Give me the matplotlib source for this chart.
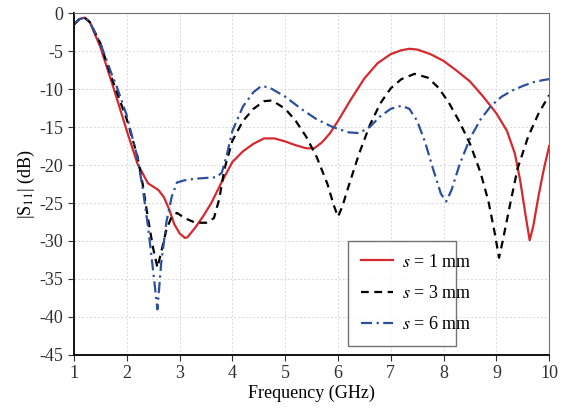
import numpy as np
import matplotlib.pyplot as plt

plt.rcParams['font.family'] = ['Liberation Serif', 'DejaVu Serif']
plt.rcParams['mathtext.fontset'] = 'stix'
plt.rcParams['axes.unicode_minus'] = False

# s = 1 mm
f1 = [1.0, 1.1, 1.2, 1.3, 1.5, 1.7, 1.8, 2.0, 2.2, 2.4, 2.6, 2.7, 2.8, 2.9, 3.0, 3.1, 3.15,
      3.3, 3.45, 3.6, 3.8, 4.0, 4.2, 4.4, 4.6, 4.8, 5.0, 5.2, 5.4, 5.55, 5.7, 5.85, 6.0,
      6.25, 6.5, 6.75, 7.0, 7.2, 7.35, 7.5, 7.75, 8.0, 8.25, 8.5, 8.75, 9.0, 9.2, 9.35,
      9.45, 9.55, 9.63, 9.7, 9.8, 9.9, 10.0]
s1 = [-1.5, -0.8, -0.6, -1.2, -4.5, -8.8, -11.0, -15.5, -19.8, -22.4, -23.3, -24.2, -25.8,
      -27.8, -29.0, -29.6, -29.5, -28.2, -26.7, -25.0, -22.2, -19.6, -18.2, -17.2, -16.5,
      -16.5, -16.9, -17.4, -17.8, -17.8, -17.0, -15.8, -14.2, -11.3, -8.6, -6.6, -5.4,
      -4.9, -4.7, -4.8, -5.4, -6.3, -7.6, -9.0, -11.0, -13.2, -15.5, -18.5, -22.0, -26.5,
      -29.9, -28.0, -24.0, -20.5, -17.5]

# s = 3 mm
f3 = [1.0, 1.1, 1.2, 1.3, 1.5, 1.7, 1.8, 2.0, 2.2, 2.3, 2.4, 2.5, 2.58, 2.65, 2.75, 2.85,
      2.95, 3.1, 3.3, 3.5, 3.65, 3.75, 3.85, 4.0, 4.2, 4.4, 4.6, 4.75, 5.0, 5.2, 5.4, 5.6,
      5.8, 5.92, 6.0, 6.08, 6.2, 6.4, 6.6, 6.8, 7.0, 7.2, 7.45, 7.7, 7.9, 8.1, 8.3, 8.5,
      8.7, 8.85, 8.97, 9.05, 9.12, 9.25, 9.4, 9.6, 9.8, 10.0]
s3 = [-1.5, -0.8, -0.6, -1.2, -4.0, -8.3, -10.2, -14.0, -18.8, -22.5, -27.0, -31.0, -33.5,
      -31.5, -28.5, -26.8, -26.3, -27.0, -27.6, -27.6, -27.0, -24.5, -20.5, -16.8, -14.2,
      -12.6, -11.6, -11.5, -12.6, -14.2, -16.3, -19.0, -22.5, -25.3, -26.8, -25.5, -22.8,
      -18.5, -14.8, -11.9, -9.9, -8.7, -8.0, -8.5, -9.8, -11.8, -14.3, -17.2, -21.0, -24.8,
      -29.0, -32.2, -30.0, -25.5, -20.5, -16.3, -13.2, -10.8]

# s = 6 mm
f6 = [1.0, 1.1, 1.2, 1.3, 1.5, 1.7, 1.8, 2.0, 2.2, 2.3, 2.4, 2.5, 2.58, 2.65, 2.75, 2.85,
      2.95, 3.1, 3.3, 3.5, 3.7, 3.8, 3.9, 4.0, 4.2, 4.4, 4.55, 4.7, 5.0, 5.3, 5.6, 5.9,
      6.2, 6.4, 6.6, 6.8, 7.0, 7.2, 7.35, 7.5, 7.65, 7.8, 7.95, 8.05, 8.15, 8.3, 8.5, 8.7,
      8.9, 9.1, 9.3, 9.5, 9.7, 9.9, 10.0]
s6 = [-1.5, -0.8, -0.6, -1.2, -4.0, -7.8, -9.5, -13.5, -19.0, -23.0, -28.0, -34.0, -39.0,
      -33.0, -27.5, -24.2, -22.3, -22.0, -21.8, -21.7, -21.6, -21.0, -18.5, -15.5, -12.3,
      -10.4, -9.6, -9.8, -11.0, -12.6, -14.0, -15.0, -15.7, -15.8, -15.0, -13.6, -12.6,
      -12.2, -12.6, -14.2, -17.0, -20.5, -23.8, -24.8, -23.3, -20.0, -16.5, -14.0, -12.2,
      -11.0, -10.2, -9.6, -9.1, -8.8, -8.7]

labels = ['$s$ = 1 mm', '$s$ = 3 mm', '$s$ = 6 mm']

fig, ax = plt.subplots(figsize=(5.65, 4.08), dpi=100)
plt.subplots_adjust(left=0.131, right=0.972, top=0.968, bottom=0.13)

ax.plot(f1, s1, color='#d42a2f', lw=1.6, ls='-', label=labels[0])
ax.plot(f3, s3, color='black', lw=1.6, ls=(0, (3.5, 2.5)), label=labels[1])
ax.plot(f6, s6, color='#2c4f9e', lw=1.6, ls=(0, (5, 2, 1, 2)), label=labels[2])

ax.set_xlim(1, 10)
ax.set_ylim(-45, 0)
ax.set_xticks(np.arange(1, 11, 1))
ax.set_yticks(np.arange(-45, 1, 5))
ax.grid(True, color='#d8d8d8', ls=(0, (2, 2)), lw=0.7)
ax.set_axisbelow(True)

for side in ['top', 'right']:
    ax.spines[side].set_color('#707070')
for side in ['left', 'bottom']:
    ax.spines[side].set_color('black')
    ax.spines[side].set_linewidth(1.3)
ax.tick_params(labelsize=13, length=4, direction='out', colors='#303030')
ax.tick_params(top=False, right=False)

ax.set_xlabel('Frequency (GHz)', fontsize=13, labelpad=2)
ax.set_ylabel('|S$_{11}$| (dB)', fontsize=13, labelpad=2)

leg = ax.legend(loc='lower left', bbox_to_anchor=(0.577, 0.026, 0.227, 0.305),
                mode='expand', fontsize=13, frameon=True, fancybox=False,
                edgecolor='#505050', handlelength=1.8, handletextpad=0.5,
                borderpad=0.7, labelspacing=0.8, borderaxespad=0)
leg.get_frame().set_linewidth(1.0)

plt.savefig('out.png', dpi=100)
